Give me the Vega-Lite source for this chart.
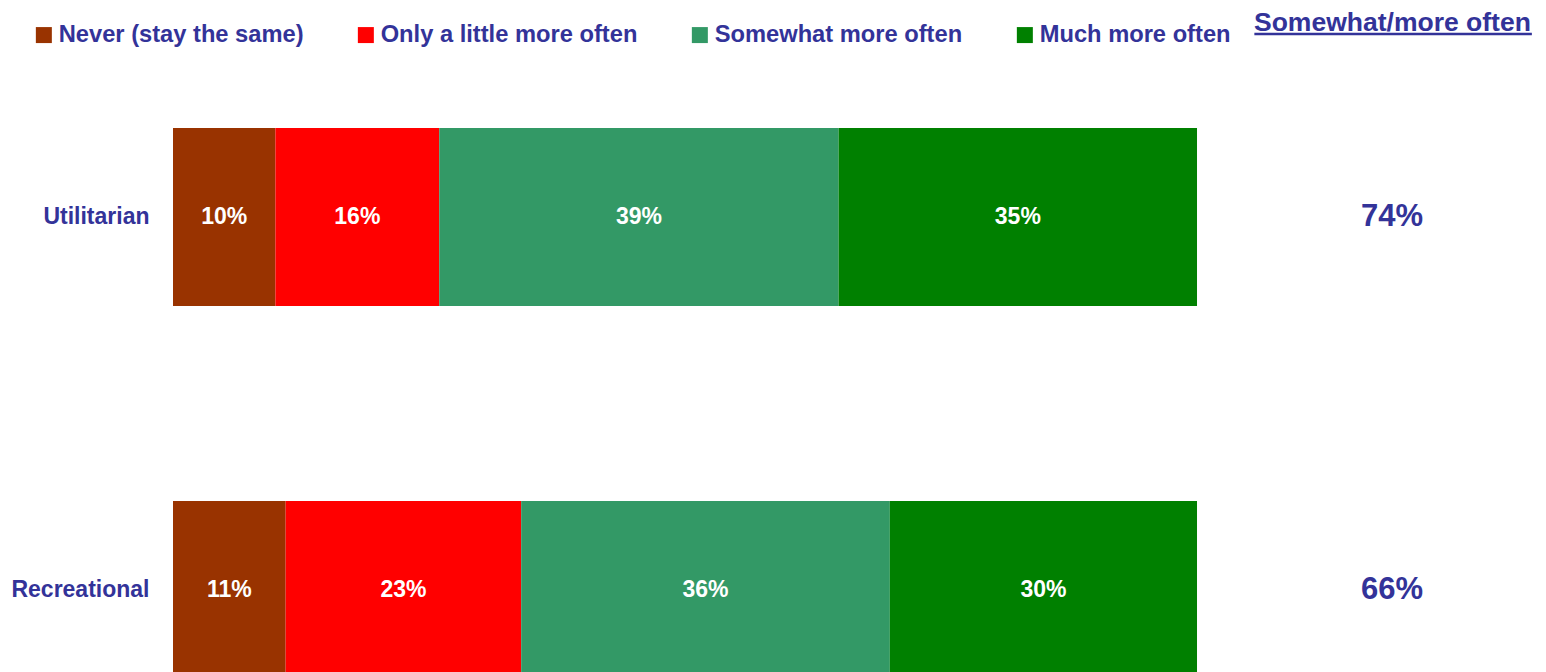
{
  "$schema": "https://vega.github.io/schema/vega-lite/v6.json",
  "width": 1373,
  "height": 672,
  "autosize": {"type": "none"},
  "padding": {"left": 173, "top": 0, "right": 0, "bottom": 0},
  "background": "white",
  "config": {"view": {"stroke": null}, "font": "Liberation Sans"},
  "datasets": {
    "segments": [
      {"mode": "Utilitarian", "response": "Never (stay the same)", "k": 1, "pct": 10, "label": "10%"},
      {"mode": "Utilitarian", "response": "Only a little more often", "k": 2, "pct": 16, "label": "16%"},
      {"mode": "Utilitarian", "response": "Somewhat more often", "k": 3, "pct": 39, "label": "39%"},
      {"mode": "Utilitarian", "response": "Much more often", "k": 4, "pct": 35, "label": "35%"},
      {"mode": "Recreational", "response": "Never (stay the same)", "k": 1, "pct": 11, "label": "11%"},
      {"mode": "Recreational", "response": "Only a little more often", "k": 2, "pct": 23, "label": "23%"},
      {"mode": "Recreational", "response": "Somewhat more often", "k": 3, "pct": 36, "label": "36%"},
      {"mode": "Recreational", "response": "Much more often", "k": 4, "pct": 30, "label": "30%"}
    ],
    "totals": [
      {"mode": "Utilitarian", "total": "74%"},
      {"mode": "Recreational", "total": "66%"}
    ]
  },
  "layer": [
    {
      "data": {"name": "segments"},
      "transform": [
        {"stack": "pct", "groupby": ["mode"], "sort": [{"field": "k", "order": "ascending"}], "as": ["x0", "x1"]}
      ],
      "mark": {"type": "bar"},
      "encoding": {
        "y": {
          "field": "mode", "type": "nominal", "sort": ["Utilitarian", "Recreational"],
          "scale": {"range": [128, 679], "paddingInner": 0.5228, "paddingOuter": 0},
          "axis": {"title": null, "domain": false, "ticks": false, "labelFontSize": 23, "labelFontWeight": "bold", "labelColor": "#333399", "labelPadding": 24, "labelFont": "Liberation Sans", "labelLimit": 250}
        },
        "x": {"field": "x0", "type": "quantitative", "scale": {"domain": [0, 134.08], "nice": false, "zero": false}, "axis": null},
        "x2": {"field": "x1"},
        "color": {
          "field": "response", "type": "nominal",
          "scale": {"domain": ["Never (stay the same)", "Only a little more often", "Somewhat more often", "Much more often"], "range": ["#993300", "#FF0000", "#339966", "#008000"]},
          "legend": {
            "orient": "none", "legendX": -141, "legendY": 23, "direction": "horizontal",
            "title": "Somewhat/more often", "titleOrient": "right", "titleAnchor": "start", "titleBaseline": "middle",
            "titlePadding": 23, "titleFontSize": 26.5, "titleFont": "Liberation Sans", "titleFontWeight": "bold", "titleColor": "#333399", "titleLimit": 500,
            "labelFontSize": 23.7, "labelFontWeight": "bold", "labelColor": "#333399", "labelFont": "Liberation Sans", "labelLimit": 400, "labelOffset": 3,
            "symbolType": "square", "symbolSize": 256, "symbolStrokeWidth": 0, "symbolOpacity": 1,
            "columnPadding": 50, "padding": 0
          }
        }
      }
    },
    {
      "data": {"name": "segments"},
      "transform": [
        {"stack": "pct", "groupby": ["mode"], "sort": [{"field": "k", "order": "ascending"}], "as": ["x0", "x1"]},
        {"fold": ["x0", "x1"], "as": ["edge", "pos"]}
      ],
      "mark": {"type": "text", "color": "white", "fontWeight": "bold", "fontSize": 23, "baseline": "middle", "align": "center", "font": "Liberation Sans"},
      "encoding": {
        "y": {"field": "mode", "type": "nominal", "sort": ["Utilitarian", "Recreational"]},
        "x": {"aggregate": "mean", "field": "pos", "type": "quantitative"},
        "text": {"field": "label", "type": "nominal"}
      }
    },
    {
      "data": {"name": "totals"},
      "mark": {"type": "text", "color": "#333399", "fontWeight": "bold", "fontSize": 31, "baseline": "middle", "align": "center", "font": "Liberation Sans"},
      "encoding": {
        "y": {"field": "mode", "type": "nominal", "sort": ["Utilitarian", "Recreational"]},
        "x": {"datum": 119.04},
        "text": {"field": "total"}
      }
    },
    {
      "data": {"values": [{}]},
      "mark": {"type": "rule", "color": "#333399", "strokeWidth": 2.5, "yOffset": -183},
      "encoding": {
        "x": {"datum": 105.6},
        "x2": {"datum": 132.7},
        "y": {"datum": "Utilitarian"}
      }
    }
  ]
}
